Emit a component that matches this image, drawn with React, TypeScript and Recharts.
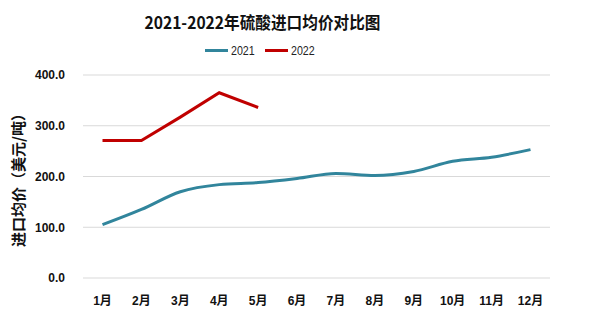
import React from "react";
import { LineChart, Line, XAxis, YAxis, CartesianGrid } from "recharts";

const months = ["1月", "2月", "3月", "4月", "5月", "6月", "7月", "8月", "9月", "10月", "11月", "12月"];
const values2021 = [105, 135, 170, 184, 188, 196, 206, 202, 210, 230, 238, 253];
const values2022: (number | null)[] = [271, 271, 317, 365, 336, null, null, null, null, null, null, null];
const yTicks = [0, 100, 200, 300, 400];

const series = [
  { key: "y2021", name: "2021", color: "#31859C" },
  { key: "y2022", name: "2022", color: "#C00000" },
];

const data = months.map((m, i) => ({ month: m, y2021: values2021[i], y2022: values2022[i] }));

const tickFont = "'Liberation Sans', Arial, 'Noto Sans CJK SC', sans-serif";

export default function App() {
  return (
    <div style={{ position: "absolute", left: 0, top: 0, width: 605, height: 321, background: "#fff" }}>
      <div
        style={{
          position: "absolute",
          left: 0,
          top: 10,
          width: 525,
          textAlign: "center",
          fontFamily: "'Noto Sans CJK SC', sans-serif",
          fontWeight: 700,
          fontSize: 17,
          lineHeight: "24px",
          color: "#111",
          transform: "scaleX(0.92)",
          transformOrigin: "262px center",
        }}
      >
        2021-2022年硫酸进口均价对比图
      </div>
      <div
        style={{
          position: "absolute",
          left: 205,
          top: 41,
          display: "flex",
          alignItems: "center",
          fontFamily: "'Liberation Sans', Arial, sans-serif",
          fontSize: 13,
          color: "#222",
          height: 18,
        }}
      >
        {series.map((s, i) => (
          <div key={s.key} style={{ display: "flex", alignItems: "center", marginRight: i === 0 ? 11 : 0 }}>
            <div style={{ width: 23, height: 3, background: s.color, marginRight: 3 }} />
            <span style={{ display: "inline-block", width: 23, transform: "scaleX(0.82)", transformOrigin: "left center" }}>
              {s.name}
            </span>
          </div>
        ))}
      </div>
      <LineChart width={605} height={321} data={data} margin={{ top: 75, right: 55, bottom: 13, left: 0 }}>
        <CartesianGrid vertical={false} stroke="#d9d9d9" />
        <XAxis
          dataKey="month"
          height={30}
          axisLine={false}
          tickLine={false}
          padding={{ left: 19.5, right: 19.5 }}
          tickMargin={12}
          tick={{ fontSize: 12, fontWeight: 700, fill: "#111", fontFamily: tickFont }}
          interval={0}
        />
        <YAxis
          width={83}
          domain={[0, 400]}
          ticks={yTicks}
          axisLine={false}
          tickLine={false}
          tickSize={0}
          tickMargin={18}
          tickFormatter={(v: number) => v.toFixed(1)}
          tick={{ fontSize: 12, fontWeight: 700, fill: "#111", fontFamily: tickFont }}
          label={{
            value: "进口均价（美元/吨）",
            angle: -90,
            position: "insideLeft",
            offset: 19,
            style: {
              textAnchor: "middle",
              fontSize: 15,
              fontWeight: 700,
              fill: "#111",
              fontFamily: "'Noto Sans CJK SC', sans-serif",
            },
          }}
        />
        <Line
          type="monotone"
          dataKey="y2021"
          name="2021"
          stroke="#31859C"
          strokeWidth={3}
          dot={false}
          isAnimationActive={false}
        />
        <Line
          type="linear"
          dataKey="y2022"
          name="2022"
          stroke="#C00000"
          strokeWidth={3}
          dot={false}
          isAnimationActive={false}
        />
      </LineChart>
    </div>
  );
}
